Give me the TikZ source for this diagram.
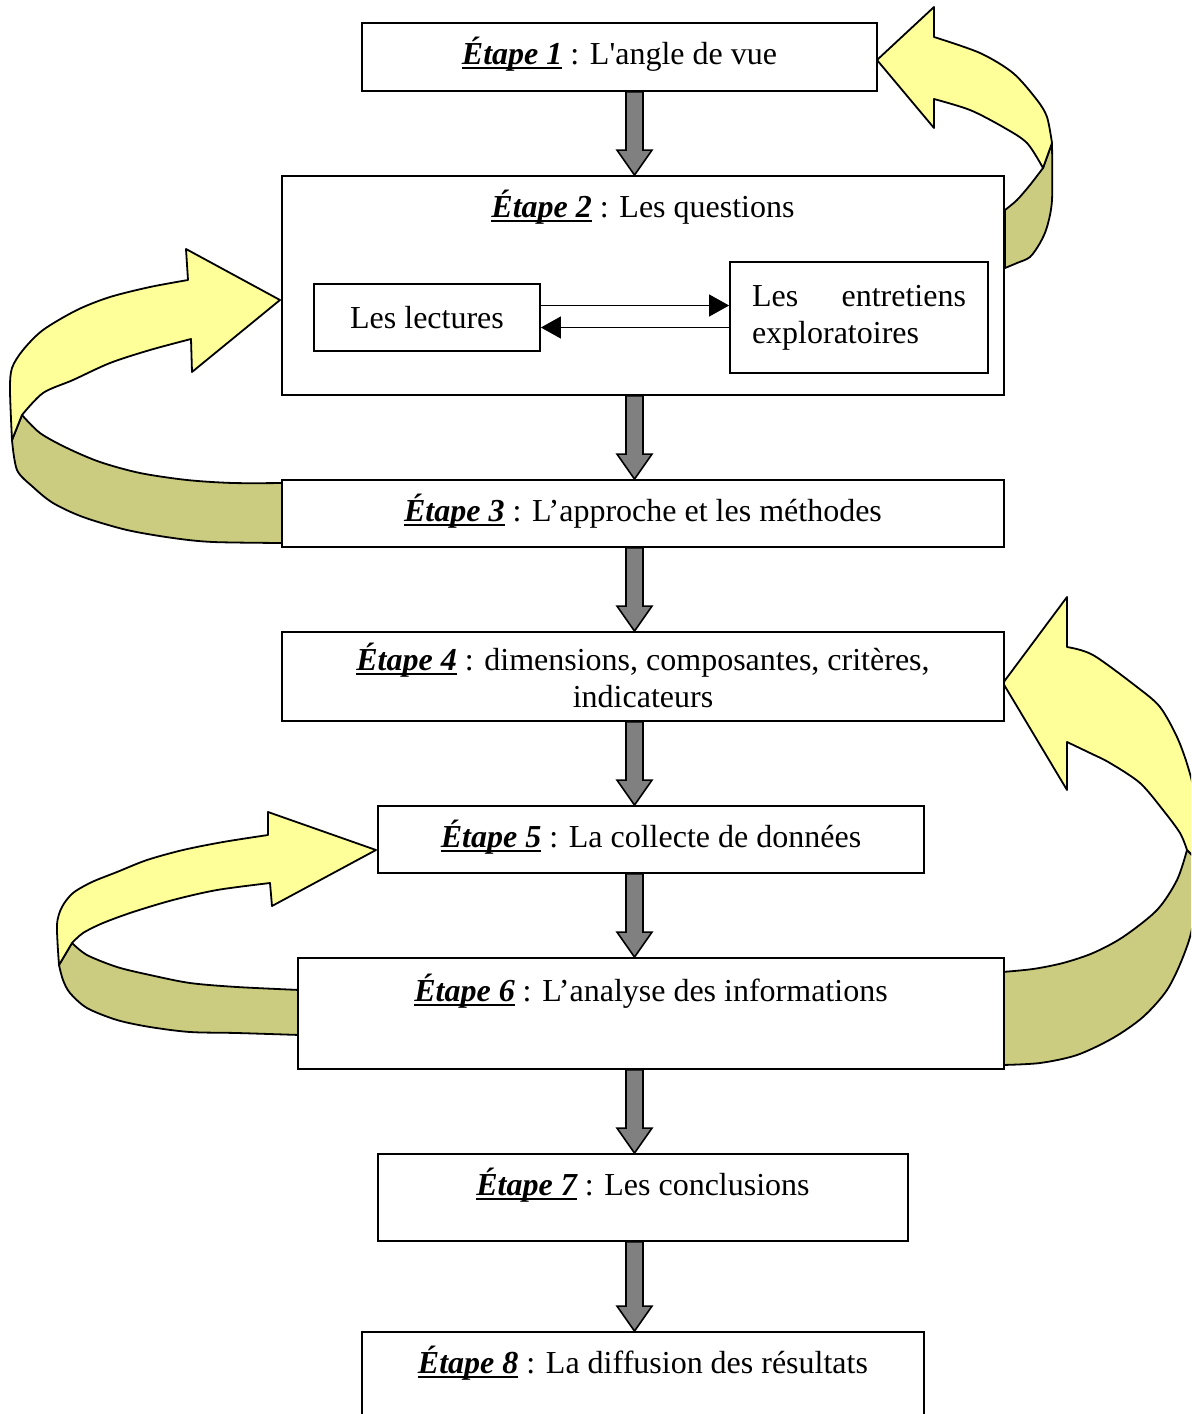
\documentclass[tikz,border=0pt]{standalone}
\usepackage{fontspec}
\setmainfont{Liberation Serif}
\usetikzlibrary{fit,calc,arrows.meta}

\definecolor{ribbonfront}{RGB}{255,255,153}
\definecolor{ribbonback}{RGB}{204,204,128}
\definecolor{flowgray}{RGB}{128,128,128}

\tikzset{
  stepbox/.style={rectangle, draw, fill=white, line width=0.9pt, inner sep=0pt},
  steptext/.style={anchor=base, inner sep=0pt, align=center},
  flow/.style={draw, fill=flowgray, line width=0.8pt, line join=miter},
  ribfront/.style={draw, fill=ribbonfront, line width=0.9pt, line join=round},
  ribback/.style={draw, fill=ribbonback, line width=0.9pt, line join=round},
  thinarrow/.style={line width=0.6pt, -{Triangle[length=10pt, width=11pt]}}
}

% underlined step label
\newcommand\etape[1]{\setbox0\hbox{\bfseries\itshape Étape #1}\rlap{\rule[-2.6pt]{\wd0}{1.3pt}}\box0\relax}
% big gray arrow between two steps
\newcommand\flowarrow[2]{%
  \draw[flow] ($(#1.south -| col)+(-8.5,0)$) -- ($(#1.south -| col)+(8.5,0)$)
    -- ($(#2.north -| col)+(8.5,-25)$) -- ($(#2.north -| col)+(17.5,-25)$)
    -- (#2.north -| col) -- ($(#2.north -| col)+(-17.5,-25)$)
    -- ($(#2.north -| col)+(-8.5,-25)$) -- cycle;}

\begin{document}
\begin{tikzpicture}[x=0.5pt, y=-0.5pt, every node/.style={font=\fontsize{16}{18.5}\selectfont}]
    \clip (0,0) rectangle (1191,1414);
    \coordinate (col) at (634.5,0);

    % Loop ribbons (drawn first, the boxes cover their ends)
    \path[ribback] plot[smooth] coordinates {(1005,210) (1017,200) (1030,185) (1043,168)}
        -- (1052,143) -- plot[smooth] coordinates {(1052,143) (1052,200) (1047,227) (1040,243)
        (1030,257) (1017,263) (1005,268)} -- cycle;
    \path[ribfront] (877,60) -- (934,7) -- (934,37)
        -- plot[smooth] coordinates {(934,37) (980,53) (1013,73) (1037,100) (1047,117) (1052,143)}
        -- (1043,168) -- plot[smooth] coordinates {(1043,168) (1027,143) (1003,127) (970,110) (934,99)}
        -- (934,128) -- cycle;

    \path[ribback] plot[smooth] coordinates {(22,415) (40,433) (67,448) (100,462) (140,473)
        (187,480) (233,483) (284,483)} -- (284,543)
        -- plot[smooth] coordinates {(284,543) (213,542) (173,538) (127,530) (83,517) (53,503)
        (33,487) (17,470) (12,440)} -- cycle;
    \path[ribfront] (280,300) -- (186,249) -- (188,280)
        -- plot[smooth] coordinates {(188,280) (150,287) (110,297) (77,310) (43,330) (23,350)
        (12,368) (10,390) (12,440)}
        -- (22,415) -- plot[smooth] coordinates {(22,415) (43,393) (73,380) (110,363) (150,350) (191,339)}
        -- (192,372) -- cycle;

    \path[ribback] plot[smooth] coordinates {(1187,850) (1177,880) (1157,910) (1123,937)
        (1093,953) (1063,963) (1033,969) (1002,972)} -- (1002,1065)
        -- plot[smooth] coordinates {(1002,1065) (1040,1063) (1077,1055) (1113,1038) (1143,1017)
        (1167,990) (1183,957) (1193,923) (1197,860)} -- cycle;
    \path[ribfront] (1003,683) -- (1067,597) -- (1067,647)
        -- plot[smooth] coordinates {(1067,647) (1093,655) (1137,687) (1160,707) (1177,737)
        (1188,767) (1194,795) (1197,860)}
        -- (1187,850) -- plot[smooth] coordinates {(1187,850) (1180,833) (1163,810) (1140,783)
        (1110,763) (1090,753) (1067,742)}
        -- (1067,790) -- cycle;

    \path[ribback] plot[smooth] coordinates {(72,943) (87,955) (117,967) (150,975) (190,983)
        (237,987) (300,990)} -- (300,1035)
        -- plot[smooth] coordinates {(300,1035) (237,1033) (190,1032) (150,1027) (117,1020)
        (87,1008) (70,993) (63,980) (59,965)} -- cycle;
    \path[ribfront] (376,850) -- (268,812) -- (268,835)
        -- plot[smooth] coordinates {(268,835) (223,842) (183,850) (147,860) (117,872) (92,882)
        (73,893) (62,907) (57,925) (59,965)}
        -- (72,943) -- plot[smooth] coordinates {(72,943) (83,933) (103,923) (133,912) (173,900)
        (217,890) (270,883)}
        -- (272,906) -- cycle;

    % Step boxes
    \node[stepbox, fit={(362,23) (877,91)}] (e1) {};
    \node[stepbox, fit={(282,176) (1004,395)}] (e2) {};
    \node[stepbox, fit={(282,480) (1004,547)}] (e3) {};
    \node[stepbox, fit={(282,632) (1004,721)}] (e4) {};
    \node[stepbox, fit={(378,806) (924,873)}] (e5) {};
    \node[stepbox, fit={(298,958) (1004,1069)}] (e6) {};
    \node[stepbox, fit={(378,1154) (908,1241)}] (e7) {};
    \node[stepbox, fit={(362,1332) (924,1430)}] (e8) {};

    % Inner boxes of step 2
    \node[stepbox, minimum width=113pt, minimum height=33.5pt] (lec) at (427,317.5) {Les lectures};
    \node[stepbox, minimum width=129pt, minimum height=55.5pt, text width=107pt,
          inner xsep=11pt, align=justify] (ent) at (859,317.5)
        {Les entretiens exploratoires};

    % Step texts
    \node[steptext] (t1) at ([yshift=-21pt]e1.north) {\etape{1} : L\textquotesingle angle de vue};
    \node[steptext] (t2) at ([yshift=-21pt]e2.north) {\etape{2} : Les questions};
    \node[steptext] (t3) at ([yshift=-21pt]e3.north) {\etape{3} : L’approche et les méthodes};
    \node[steptext] (t4) at ([yshift=-38pt]e4.north) {\etape{4} : dimensions, composantes, critères,\\ indicateurs};
    \node[steptext] (t5) at ([yshift=-21pt]e5.north) {\etape{5} : La collecte de données};
    \node[steptext] (t6) at ([yshift=-22pt]e6.north) {\etape{6} : L’analyse des informations};
    \node[steptext] (t7) at ([yshift=-21pt]e7.north) {\etape{7} : Les conclusions};
    \node[steptext] (t8) at ([yshift=-21pt]e8.north) {\etape{8} : La diffusion des résultats};

    % Arrows between readings and interviews
    \draw[thinarrow] ([yshift=6pt]lec.east) -- ([yshift=6pt]ent.west);
    \draw[thinarrow] ([yshift=-5pt]ent.west) -- ([yshift=-5pt]lec.east);

    % Gray arrows down the column
    \flowarrow{e1}{e2}
    \flowarrow{e2}{e3}
    \flowarrow{e3}{e4}
    \flowarrow{e4}{e5}
    \flowarrow{e5}{e6}
    \flowarrow{e6}{e7}
    \flowarrow{e7}{e8}
\end{tikzpicture}
\end{document}
